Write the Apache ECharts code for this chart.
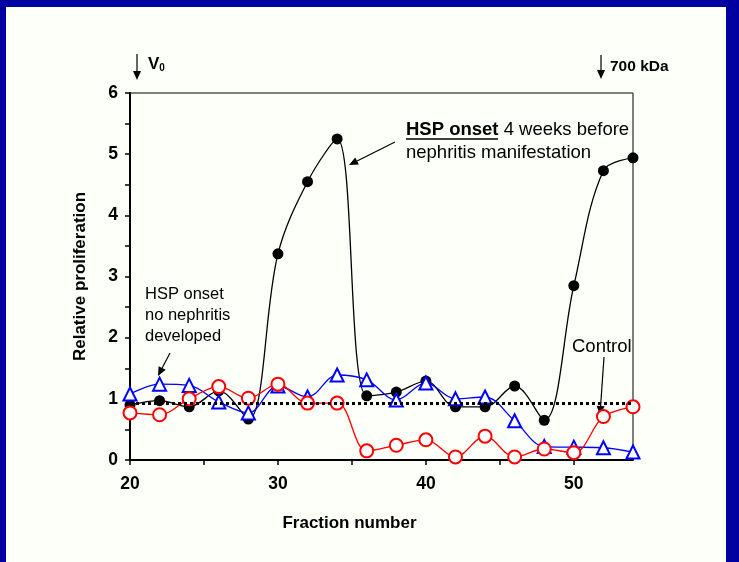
<!DOCTYPE html>
<html>
<head>
<meta charset="utf-8">
<script src="https://cdn.jsdelivr.net/npm/echarts@6/dist/echarts.min.js"></script>
<style>
  body { margin: 0; }
  .frame {
    position: absolute; left: 0; top: 0;
    width: 739px; height: 562px;
    background: #0000a0;
  }
  #chart {
    position: absolute; left: 6px; top: 7px;
    width: 720px; height: 555px;
    background: #fdfff9;
  }
</style>
</head>
<body>
<div class="frame"><div id="chart"></div></div>
<script>
// fraction numbers (x) and relative proliferation per group
const fractions = [20, 22, 24, 26, 28, 30, 32, 34, 36, 38, 40, 42, 44, 46, 48, 50, 52, 54]
const hspNephritis = [0.90, 0.97, 0.87, 1.13, 0.67, 3.37, 4.55, 5.25, 1.05, 1.11, 1.29, 0.87, 0.87, 1.21, 0.65, 2.85, 4.73, 4.94]
const hspNoNephritis = [1.08, 1.24, 1.22, 0.95, 0.77, 1.21, 1.03, 1.39, 1.31, 0.98, 1.26, 1.00, 1.03, 0.64, 0.22, 0.21, 0.20, 0.13]
const control = [0.77, 0.74, 1.00, 1.20, 1.01, 1.24, 0.93, 0.93, 0.15, 0.24, 0.33, 0.05, 0.39, 0.05, 0.18, 0.12, 0.71, 0.87]
const baseline = 0.92

const xLabels = [20, 30, 40, 50]
const xTicks = [20, 25, 30, 35, 40, 45, 50]
const yLabels = [0, 1, 2, 3, 4, 5, 6]
const yTicks = [0, 0.5, 1, 1.5, 2, 2.5, 3, 3.5, 4, 4.5, 5, 5.5, 6]

const pairs = (ys) => fractions.map((x, i) => [x, ys[i]])

// small arrow for the annotations
function arrow(x1, y1, x2, y2) {
  const a = Math.atan2(y2 - y1, x2 - x1)
  const len = 9, half = 4
  const bx = x2 - len * Math.cos(a), by = y2 - len * Math.sin(a)
  const px = -Math.sin(a) * half, py = Math.cos(a) * half
  return [
    { type: 'line', shape: { x1: x1, y1: y1, x2: bx, y2: by }, style: { stroke: '#000', lineWidth: 1.2 } },
    { type: 'polygon', shape: { points: [[x2, y2], [bx + px, by + py], [bx - px, by - py]] }, style: { fill: '#000' } },
  ]
}

const font = 'Liberation Sans, Arial, sans-serif'

const chart = echarts.init(document.getElementById('chart'))
chart.setOption({
  animation: false,
  grid: {
    left: 124, top: 86, width: 503, height: 367,
    show: true, borderColor: '#000', borderWidth: 1,
  },
  xAxis: {
    type: 'value', min: 20, max: 54,
    name: 'Fraction number', nameLocation: 'middle', nameGap: 55,
    nameTextStyle: { fontFamily: font, fontWeight: 'bold', fontSize: 17, color: '#000', padding: [0, 64, 0, 0] },
    axisLine: { lineStyle: { color: '#000', width: 2 } },
    axisTick: { customValues: xTicks, length: 5, lineStyle: { color: '#000', width: 1.5 } },
    axisLabel: { customValues: xLabels, margin: 15, fontFamily: font, fontWeight: 'bold', fontSize: 17.5, color: '#000' },
    splitLine: { show: false },
  },
  yAxis: {
    type: 'value', min: 0, max: 6,
    name: 'Relative proliferation', nameLocation: 'middle', nameGap: 41,
    nameTextStyle: { fontFamily: font, fontWeight: 'bold', fontSize: 17, color: '#000' },
    axisLine: { show: true, lineStyle: { color: '#000', width: 2 } },
    axisTick: { show: true, customValues: yTicks, length: 5, lineStyle: { color: '#000', width: 1.5 } },
    axisLabel: { customValues: yLabels, margin: 12, fontFamily: font, fontWeight: 'bold', fontSize: 17.5, color: '#000' },
    splitLine: { show: false },
  },
  series: [
    {
      name: 'HSP onset, nephritis', type: 'line', data: pairs(hspNephritis),
      smooth: 0.35, clip: false,
      symbol: 'circle', symbolSize: 11,
      itemStyle: { color: '#000' },
      lineStyle: { color: '#000', width: 1.3 },
      markLine: {
        silent: true, symbol: 'none', label: { show: false },
        lineStyle: { color: '#000', width: 3, type: [3, 3] },
        data: [{ yAxis: baseline }],
      },
    },
    {
      name: 'HSP onset, no nephritis', type: 'line', data: pairs(hspNoNephritis),
      smooth: 0.35, clip: false,
      symbol: 'emptyTriangle', symbolSize: 13,
      itemStyle: { color: '#0000ff', borderWidth: 1.3 },
      lineStyle: { color: '#0000ff', width: 1.3 },
    },
    {
      name: 'Control', type: 'line', data: pairs(control),
      smooth: 0.35, clip: false,
      symbol: 'emptyCircle', symbolSize: 13,
      itemStyle: { color: '#ff0000', borderWidth: 1.3 },
      lineStyle: { color: '#ff0000', width: 1.3 },
    },
  ],
  graphic: [
    ...arrow(131, 47, 131, 73),
    {
      type: 'text', x: 142, y: 57,
      style: {
        text: '{v|V}{s|0}', verticalAlign: 'middle',
        rich: {
          v: { fontFamily: font, fontWeight: 'bold', fontSize: 17, fill: '#000' },
          s: { fontFamily: font, fontWeight: 'bold', fontSize: 10, fill: '#000', padding: [8, 0, 0, 0] },
        },
      },
    },
    ...arrow(595, 48, 595, 72),
    {
      type: 'text', x: 604, y: 60,
      style: { text: '700 kDa', fontFamily: font, fontWeight: 'bold', fontSize: 15.5, fill: '#000', verticalAlign: 'middle' },
    },
    {
      type: 'text', x: 400, y: 123,
      style: {
        text: '{b|HSP onset}{r| 4 weeks before}', verticalAlign: 'middle',
        rich: {
          b: { fontFamily: font, fontWeight: 'bold', fontSize: 18.5, fill: '#000' },
          r: { fontFamily: font, fontSize: 18.5, fill: '#000' },
        },
      },
    },
    { type: 'line', shape: { x1: 400, y1: 132, x2: 492, y2: 132 }, style: { stroke: '#000', lineWidth: 1.5 } },
    {
      type: 'text', x: 400, y: 146,
      style: { text: 'nephritis manifestation', fontFamily: font, fontSize: 18.5, fill: '#000', verticalAlign: 'middle' },
    },
    ...arrow(389, 135, 343, 158),
    {
      type: 'text', x: 139, y: 277,
      style: {
        text: 'HSP onset\nno nephritis\ndeveloped', fontFamily: font, fontSize: 16.5, lineHeight: 21,
        fill: '#000', verticalAlign: 'top',
      },
    },
    ...arrow(164, 346, 152, 369),
    {
      type: 'text', x: 566, y: 340,
      style: { text: 'Control', fontFamily: font, fontSize: 18.5, fill: '#000', verticalAlign: 'middle' },
    },
    ...arrow(598, 350, 594, 408),
  ],
})
</script>
</body>
</html>
